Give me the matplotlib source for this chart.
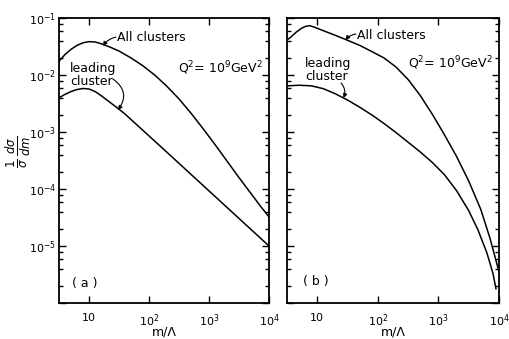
import matplotlib
matplotlib.use('Agg')
import matplotlib.pyplot as plt
import numpy as np
from matplotlib.ticker import LogLocator, FixedLocator, FixedFormatter, NullFormatter

# values, as log10(m/Lambda) and log10(1/sigma dsigma/dm)
# panel (a)
lx_a_all = [0.5, 0.6, 0.7, 0.8, 0.9, 1.0, 1.1, 1.2, 1.35, 1.5, 1.7, 1.9, 2.1, 2.3,
            2.5, 2.7, 2.9, 3.1, 3.3, 3.5, 3.7, 3.85, 4.0]
ly_a_all = [-1.76, -1.64, -1.55, -1.48, -1.435, -1.415, -1.42, -1.45, -1.51, -1.58,
            -1.70, -1.84, -2.005, -2.20, -2.42, -2.67, -2.94, -3.22, -3.51, -3.80,
            -4.08, -4.29, -4.49]
lx_a_lead = [0.5, 0.6, 0.7, 0.8, 0.9, 1.0, 1.1, 1.2, 1.3, 1.4, 1.5, 1.6, 2.2, 2.8,
             3.4, 4.0]
ly_a_lead = [-2.40, -2.34, -2.29, -2.255, -2.237, -2.245, -2.29, -2.36, -2.44, -2.52,
             -2.60, -2.685, -3.26, -3.84, -4.42, -5.0]

# panel (b)
lx_b_all = [0.52, 0.572, 0.65, 0.739, 0.81, 0.878, 0.95, 1.072, 1.3, 1.489, 1.7,
            1.905, 2.1, 2.3, 2.5, 2.7, 2.9, 3.1, 3.3, 3.5, 3.7, 3.85, 4.0]
ly_b_all = [-1.37, -1.327, -1.25, -1.181, -1.145, -1.135, -1.16, -1.211, -1.305,
            -1.386, -1.48, -1.591, -1.70, -1.86, -2.08, -2.36, -2.69, -3.05, -3.43,
            -3.86, -4.36, -4.86, -5.45]
lx_b_lead = [0.5, 0.7, 0.9, 1.1, 1.3, 1.5, 1.7, 1.9, 2.1, 2.3, 2.5, 2.7, 2.9, 3.1,
             3.3, 3.5, 3.65, 3.8, 3.9, 3.95]
ly_b_lead = [-2.19, -2.18, -2.19, -2.24, -2.33, -2.44, -2.565, -2.70, -2.85, -3.01,
             -3.18, -3.35, -3.535, -3.75, -4.03, -4.38, -4.71, -5.12, -5.48, -5.75]

x_ticks = [10, 100, 1000, 10000]
x_labels = ['10', r'$10^2$', r'$10^3$', r'$10^4$']
y_ticks = [1e-6, 1e-5, 1e-4, 1e-3, 1e-2, 1e-1]
y_labels = ['', r'$10^{-5}$', r'$10^{-4}$', r'$10^{-3}$', r'$10^{-2}$', r'$10^{-1}$']

fig = plt.figure(figsize=(5.09, 3.39), dpi=100)
W, H = 509, 339
ax_a = fig.add_axes([59 / W, 1 - 303 / H, 210 / W, 285 / H])
ax_b = fig.add_axes([287 / W, 1 - 303 / H, 212 / W, 285 / H])

for ax in (ax_a, ax_b):
    ax.set_xscale('log')
    ax.set_yscale('log')
    ax.set_xlim(10 ** 0.5, 1e4)
    ax.set_ylim(1e-6, 1e-1)
    for s in ax.spines.values():
        s.set_linewidth(1.3)
    ax.xaxis.set_major_locator(FixedLocator(x_ticks))
    ax.xaxis.set_major_formatter(FixedFormatter(x_labels))
    ax.xaxis.set_minor_locator(FixedLocator([]))
    ax.yaxis.set_major_locator(FixedLocator(y_ticks))
    ax.yaxis.set_minor_locator(LogLocator(base=10, subs=(2, 4, 6, 8)))
    ax.yaxis.set_minor_formatter(NullFormatter())
    ax.tick_params(which='both', direction='in', top=True, right=True, width=1.0)
    ax.tick_params(which='major', length=5, labelsize=8)
    ax.tick_params(which='minor', length=3)
    ax.tick_params(axis='x', pad=7)
    ax.set_xlabel(u'm/\u039b', fontsize=9)
    ax.xaxis.set_label_coords(0.5, -0.08)

ax_a.yaxis.set_major_formatter(FixedFormatter(y_labels))
ax_a.tick_params(axis='y', pad=2)
ax_b.yaxis.set_major_formatter(NullFormatter())

for ax, lx, ly in [(ax_a, lx_a_all, ly_a_all), (ax_a, lx_a_lead, ly_a_lead),
                   (ax_b, lx_b_all, ly_b_all), (ax_b, lx_b_lead, ly_b_lead)]:
    ax.plot(10 ** np.array(lx), 10 ** np.array(ly), color='black', lw=1.1)

arrow = dict(arrowstyle='-|>', color='black', lw=0.8, mutation_scale=6, shrinkA=0, shrinkB=0)
q_text = r'Q$^2$= 10$^9$GeV$^2$'

# (a) labels
ax_a.text(0.276, 0.93, 'All clusters', transform=ax_a.transAxes, fontsize=9, va='center')
ax_a.text(0.052, 0.80, 'leading\ncluster', transform=ax_a.transAxes, fontsize=9,
          va='center', linespacing=0.95)
ax_a.text(0.567, 0.825, q_text, transform=ax_a.transAxes, fontsize=9, va='center')
ax_a.text(0.062, 0.07, '( a )', transform=ax_a.transAxes, fontsize=9, va='center')
ax_a.annotate('', xy=(17.1, 0.0323), xytext=(0.271, 0.933), textcoords='axes fraction',
              arrowprops=dict(arrow, connectionstyle='arc3,rad=0.2'))
ax_a.annotate('', xy=(30.4, 2.43e-3), xytext=(0.257, 0.786), textcoords='axes fraction',
              arrowprops=dict(arrow, connectionstyle='arc3,rad=-0.5'))

# (b) labels
ax_b.text(0.33, 0.94, 'All clusters', transform=ax_b.transAxes, fontsize=9, va='center')
ax_b.text(0.085, 0.817, 'leading\ncluster', transform=ax_b.transAxes, fontsize=9,
          va='center', linespacing=0.95)
ax_b.text(0.571, 0.842, q_text, transform=ax_b.transAxes, fontsize=9, va='center')
ax_b.text(0.075, 0.074, '( b )', transform=ax_b.transAxes, fontsize=9, va='center')
ax_b.annotate('', xy=(29.3, 0.041), xytext=(0.325, 0.944), textcoords='axes fraction',
              arrowprops=dict(arrow, connectionstyle='arc3,rad=0.2'))
ax_b.annotate('', xy=(27.1, 3.95e-3), xytext=(0.255, 0.772), textcoords='axes fraction',
              arrowprops=dict(arrow, connectionstyle='arc3,rad=-0.3'))

fig.text(18 / W, 1 - 152 / H, r'$\frac{1}{\sigma}\,\frac{d\sigma}{dm}$', rotation=90,
         fontsize=12, ha='center', va='center')

fig.savefig('out.png', dpi=100, facecolor='white')
